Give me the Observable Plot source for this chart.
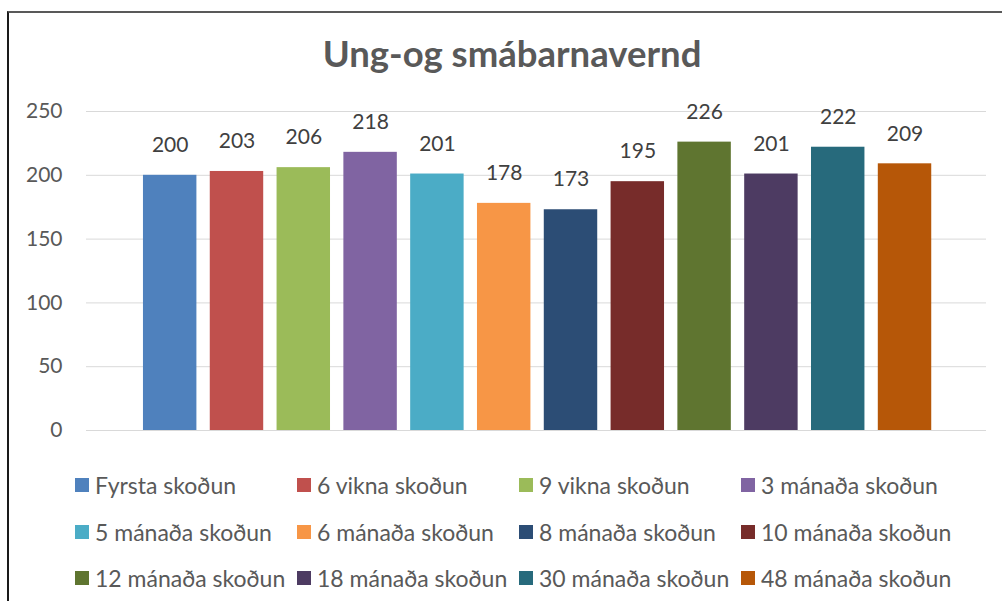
<!DOCTYPE html>
<html>
<head>
<meta charset="utf-8">
<script src="https://cdn.jsdelivr.net/npm/d3@7"></script>
<script src="https://cdn.jsdelivr.net/npm/@observablehq/plot@0.6"></script>
<style>
  html, body { margin: 0; padding: 0; background: #fff; }
  body { width: 1002px; height: 601px; position: relative; overflow: hidden; font-family: Lato, sans-serif; }
  #frame { position: absolute; left: 7px; top: 11px; width: 1100px; height: 700px;
           border-top: 2px solid #595959; border-left: 2px solid #1a1a1a; box-sizing: border-box; }
  #title { position: absolute; left: 0; width: 1024px; top: 35px; text-align: center;
           font-size: 36.5px; line-height: 36px; font-weight: bold; color: #595959; }
  #chart { position: absolute; left: 0; top: 90px; }
  #legend { position: absolute; left: 75px; top: 470px; display: grid;
            grid-template-columns: repeat(4, 222px); grid-auto-rows: 46.5px; }
  .item { display: flex; align-items: center; height: 30px; font-size: 23px; color: #595959; white-space: nowrap; }
  .sw { width: 14px; height: 14px; margin-right: 6px; flex: none; }
</style>
</head>
<body>
<div id="frame"></div>
<div id="title">Ung-og smábarnavernd</div>
<div id="chart"></div>
<div id="legend"></div>
<script>
const categories = [
  "Fyrsta skoðun", "6 vikna skoðun", "9 vikna skoðun", "3 mánaða skoðun",
  "5 mánaða skoðun", "6 mánaða skoðun", "8 mánaða skoðun", "10 mánaða skoðun",
  "12 mánaða skoðun", "18 mánaða skoðun", "30 mánaða skoðun", "48 mánaða skoðun"
];
const values = [200, 203, 206, 218, 201, 178, 173, 195, 226, 201, 222, 209];
const colors = [
  "#4F81BD", "#C0504D", "#9BBB59", "#8064A2", "#4BACC6", "#F79646",
  "#2C4D75", "#772C2A", "#5F7530", "#4D3B62", "#276A7C", "#B65708"
];
const yTicks = [0, 50, 100, 150, 200, 250];

const data = categories.map((c, i) => ({cat: c, value: values[i]}));

const chart = Plot.plot({
  width: 1002,
  height: 360,
  marginLeft: 86,
  marginRight: 16,
  marginTop: 21,
  marginBottom: 20,
  style: {fontFamily: "Lato, sans-serif", background: "transparent"},
  x: {domain: categories, axis: null, padding: 0.2, round: false, insetLeft: 43.6, insetRight: 41.4},
  y: {domain: [0, 250]},
  color: {domain: categories, range: colors},
  marks: [
    Plot.ruleY(yTicks, {stroke: "#d9d9d9", strokeWidth: 1}),
    Plot.barY(data, {x: "cat", y: "value", fill: "cat"}),
    Plot.text(data, {x: "cat", y: "value", text: d => String(d.value), dy: -30,
                     fontSize: 21, fill: "#404040"}),
    Plot.axisY({ticks: yTicks, tickSize: 0, tickPadding: 24, fontSize: 21,
                fill: "#595959", label: null})
  ]
});
document.getElementById("chart").appendChild(chart);

const legend = document.getElementById("legend");
categories.forEach((c, i) => {
  const item = document.createElement("div");
  item.className = "item";
  const sw = document.createElement("span");
  sw.className = "sw";
  sw.style.background = colors[i];
  const t = document.createElement("span");
  t.textContent = c;
  item.appendChild(sw);
  item.appendChild(t);
  legend.appendChild(item);
});
</script>
</body>
</html>
